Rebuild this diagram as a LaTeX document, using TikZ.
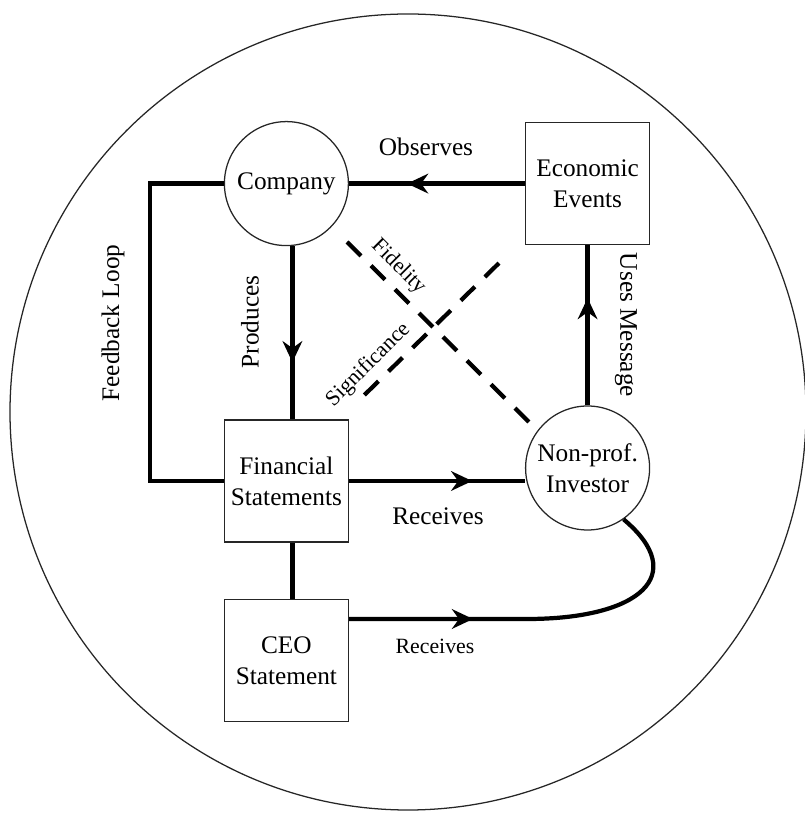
\documentclass[tikz,border=0pt]{standalone}
\usepackage{fontspec}
\setmainfont{Liberation Serif}
\usetikzlibrary{arrows.meta,decorations.markings}

\begin{document}
\begin{tikzpicture}[
		box/.style={draw=black!85, line width=0.9pt, minimum width=3.1cm, minimum height=3.05cm, align=center, inner sep=0pt, font=\fontsize{18}{22}\selectfont},
		ball/.style={draw=black!85, line width=0.9pt, circle, minimum size=3.1cm, align=center, inner sep=0pt, font=\fontsize{18}{22}\selectfont},
		flow/.style={line width=3pt},
		midarr/.style={postaction={decorate}, decoration={markings, mark=at position #1 with {\arrow{Stealth[length=15pt,width=14pt,inset=5pt]}}}},
		link/.style={line width=3pt, dash pattern=on 14pt off 10pt},
		lbl/.style={font=\fontsize{18}{22}\selectfont},
		smalllbl/.style={font=\fontsize{15.5}{18}\selectfont}
		]
		\useasboundingbox (0,0) rectangle (20.125,20.35);
		\draw[line width=0.9pt, black!85] (10.2,10.05) circle (9.95);
		\node[ball] (comp) at (7.16,15.76) {Company};
		\node[box] (eco) at (14.69,15.76) {Economic\\Events};
		\node[box] (fs) at (7.16,8.325) {Financial\\Statements};
		\node[box] (ceo) at (7.16,3.84) {CEO\\Statement};
		\node[ball] (inv) at (14.69,8.65) {Non-prof.\\Investor};
		\coordinate (loop) at (3.75,0);
		\coordinate (bend) at (13.175,4.875);
		\draw[flow, midarr=0.67] (eco) -- (comp);
		\draw[flow, midarr=0.67] ([xshift=0.15cm]comp.south) -- ([xshift=0.15cm]fs.north);
		\draw[flow, midarr=0.67] (inv) -- (eco);
		\draw[flow, midarr=0.7] (fs.east) -- (fs.east -| inv.west);
		\draw[flow] ([xshift=0.15cm]fs.south) -- ([xshift=0.15cm]ceo.north);
		\draw[flow] (comp.west) -- (comp.west -| loop) |- (fs.west);
		\draw[flow, midarr=3.1cm] (ceo.east |- bend) -- (bend) .. controls (16.0,4.875) and (17.25,5.975) .. (inv.-55);
		\coordinate (fidA) at (8.675,14.3);
		\coordinate (fidB) at (13.3,9.725);
		\coordinate (sigA) at (9.11,10.475);
		\coordinate (sigB) at (12.64,13.935);
		\draw[link] (fidA) -- (fidB);
		\draw[link] (sigA) -- (sigB);
		\node[lbl] (obs) at (10.65,16.675) {Observes};
		\node[lbl, rotate=90] (prod) at (6.25,12.3) {Produces};
		\node[lbl, rotate=90] (fb) at (2.825,12.275) {Feedback Loop};
		\node[smalllbl, rotate=-45] (fid) at (9.96,13.68) {Fidelity};
		\node[smalllbl, rotate=45] (sig) at (9.21,11.225) {Significance};
		\node[lbl, rotate=-90] (uses) at (15.65,12.225) {Uses Message};
		\node[lbl] (rec1) at (10.95,7.45) {Receives};
		\node[smalllbl] (rec2) at (10.875,4.2) {Receives};
\end{tikzpicture}
\end{document}
